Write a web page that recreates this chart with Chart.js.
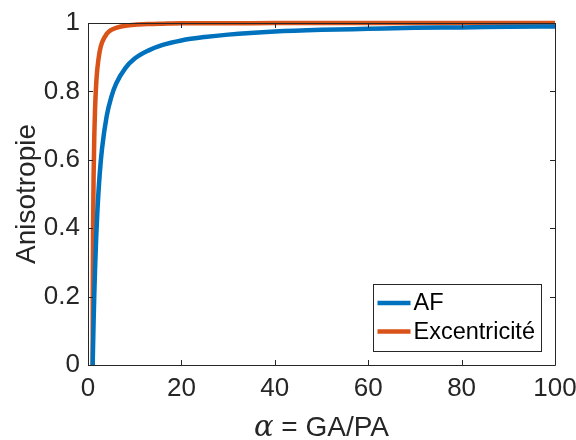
<!DOCTYPE html>
<html>
<head>
<meta charset="utf-8">
<script src="https://cdn.jsdelivr.net/npm/chart.js@4/dist/chart.umd.min.js"></script>
<style>
  html, body { margin: 0; padding: 0; background: #fff; }
  #wrap { width: 576px; height: 440px; }
</style>
</head>
<body>
<div id="wrap"><canvas id="chart" width="576" height="440"></canvas></div>
<script>
// alpha = GA/PA values
const alpha = [1, 1.02, 1.05, 1.1, 1.2, 1.35, 1.5, 1.75, 2, 2.5, 3, 4, 5, 6, 8, 10, 13, 16, 20, 25, 30, 40, 50, 60, 70, 80, 90, 100];

// AF (blue) and Excentricité (orange)
const afValues = [0, 0.014, 0.034, 0.067, 0.128, 0.208, 0.277, 0.372, 0.447, 0.557, 0.632, 0.728, 0.784, 0.822, 0.868, 0.896, 0.920, 0.936, 0.949, 0.959, 0.966, 0.975, 0.980, 0.983, 0.986, 0.987, 0.989, 0.990];
const excValues = [0, 0.197, 0.305, 0.417, 0.553, 0.672, 0.745, 0.821, 0.866, 0.917, 0.943, 0.968, 0.980, 0.986, 0.992, 0.995, 0.997, 0.998, 0.999, 0.999, 0.999, 1, 1, 1, 1, 1, 1, 1];

const seriesLabels = ['AF', 'Excentricité'];
const xTicks = [0, 20, 40, 60, 80, 100];
const yTicks = [0, 0.2, 0.4, 0.6, 0.8, 1];
const xTitleSymbol = 'α';
const xTitleRest = ' = GA/PA';

const axisColor = '#262626';
const fontFamily = '"Liberation Sans", Arial, Helvetica, sans-serif';
const serifFamily = '"DejaVu Serif", "Liberation Serif", serif';

const toPoints = (xs, ys) => xs.map((x, i) => ({ x: x, y: ys[i] }));

// MATLAB-like box with inward ticks on all four sides
const boxPlugin = {
    id: 'box',
    afterDatasetsDraw(chart) {
        const { ctx, chartArea: a, scales } = chart;
        const len = 5;
        ctx.save();
        ctx.strokeStyle = axisColor;
        ctx.lineWidth = 1;
        ctx.beginPath();
        ctx.rect(Math.round(a.left) + 0.5, Math.round(a.top) + 0.5,
            Math.round(a.right - a.left), Math.round(a.bottom - a.top));
        xTicks.forEach(v => {
            const px = Math.round(scales.x.getPixelForValue(v)) + 0.5;
            ctx.moveTo(px, a.bottom); ctx.lineTo(px, a.bottom - len);
            ctx.moveTo(px, a.top); ctx.lineTo(px, a.top + len);
        });
        yTicks.forEach(v => {
            const py = Math.round(scales.y.getPixelForValue(v)) + 0.5;
            ctx.moveTo(a.left, py); ctx.lineTo(a.left + len, py);
            ctx.moveTo(a.right, py); ctx.lineTo(a.right - len, py);
        });
        ctx.stroke();
        ctx.restore();
    }
};

// x label: italic serif alpha followed by sans text, centred under the axes
const xTitlePlugin = {
    id: 'xTitle',
    afterDraw(chart) {
        const { ctx, chartArea: a } = chart;
        const symFont = 'italic 29px ' + serifFamily;
        const restFont = '28px ' + fontFamily;
        ctx.save();
        ctx.font = symFont;
        const w1 = ctx.measureText(xTitleSymbol).width;
        ctx.font = restFont;
        const w2 = ctx.measureText(xTitleRest).width;
        const x0 = (a.left + a.right) / 2 - (w1 + w2) / 2;
        const base = 436;
        ctx.textBaseline = 'alphabetic';
        ctx.textAlign = 'left';
        ctx.fillStyle = axisColor;
        ctx.font = symFont;
        ctx.fillText(xTitleSymbol, x0, base);
        ctx.font = restFont;
        ctx.fillText(xTitleRest, x0 + w1, base);
        ctx.restore();
    }
};

// Legend box in the lower right corner of the axes
const legendPlugin = {
    id: 'boxLegend',
    afterDraw(chart) {
        const { ctx, chartArea: a } = chart;
        const w = 168, h = 67;
        const x0 = Math.round(a.right - 14 - w) + 0.5;
        const y0 = Math.round(a.bottom - 14 - h) + 0.5;
        ctx.save();
        ctx.fillStyle = '#fff';
        ctx.fillRect(x0, y0, w, h);
        ctx.strokeStyle = axisColor;
        ctx.lineWidth = 1;
        ctx.strokeRect(x0, y0, w, h);
        ctx.font = '23.5px ' + fontFamily;
        ctx.textBaseline = 'middle';
        ctx.textAlign = 'left';
        chart.data.datasets.forEach((ds, i) => {
            const cy = y0 + 18.5 + i * 28.5;
            ctx.strokeStyle = ds.borderColor;
            ctx.lineWidth = 4.5;
            ctx.beginPath();
            ctx.moveTo(x0 + 4, cy);
            ctx.lineTo(x0 + 37, cy);
            ctx.stroke();
            ctx.fillStyle = '#000';
            ctx.fillText(ds.label, x0 + 40, cy + 1);
        });
        ctx.restore();
    }
};

new Chart(document.getElementById('chart'), {
    type: 'scatter',
    data: {
        datasets: [
            {
                label: seriesLabels[0],
                data: toPoints(alpha, afValues),
                borderColor: '#0072BD',
                backgroundColor: '#0072BD',
                borderWidth: 4.5,
                showLine: true,
                pointRadius: 0,
                cubicInterpolationMode: 'monotone',
                clip: false
            },
            {
                label: seriesLabels[1],
                data: toPoints(alpha, excValues),
                borderColor: '#D95319',
                backgroundColor: '#D95319',
                borderWidth: 4.5,
                showLine: true,
                pointRadius: 0,
                cubicInterpolationMode: 'monotone',
                clip: false
            }
        ]
    },
    options: {
        responsive: false,
        animation: false,
        layout: {
            padding: { top: 23, right: 21, left: 0, bottom: 0 }
        },
        scales: {
            x: {
                type: 'linear',
                min: 0,
                max: 100,
                afterFit: (s) => { s.height = 75; s.paddingLeft = 0; s.paddingRight = 0; },
                afterBuildTicks: (s) => { s.ticks = xTicks.map(v => ({ value: v })); },
                grid: { display: false, drawTicks: false },
                border: { display: false },
                ticks: {
                    color: axisColor,
                    padding: 8,
                    maxRotation: 0,
                    font: { family: fontFamily, size: 26 }
                },
                title: { display: false }
            },
            y: {
                type: 'linear',
                min: 0,
                max: 1,
                afterFit: (s) => { s.width = 88; s.paddingTop = 0; s.paddingBottom = 0; },
                afterBuildTicks: (s) => { s.ticks = yTicks.map(v => ({ value: v })); },
                grid: { display: false, drawTicks: false },
                border: { display: false },
                ticks: {
                    color: axisColor,
                    padding: 8,
                    font: { family: fontFamily, size: 26 },
                    callback: (v) => String(v)
                },
                title: {
                    display: true,
                    text: 'Anisotropie',
                    color: axisColor,
                    padding: { top: 10, bottom: 0 },
                    font: { family: fontFamily, size: 28 }
                }
            }
        },
        plugins: {
            legend: { display: false },
            tooltip: { enabled: false }
        }
    },
    plugins: [boxPlugin, xTitlePlugin, legendPlugin]
});
</script>
</body>
</html>
